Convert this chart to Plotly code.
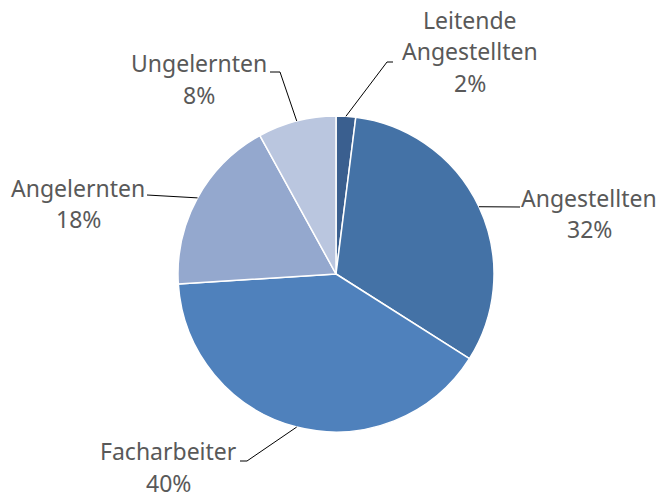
import math
import plotly.graph_objects as go

# ---- data ----
labels = ["Leitende Angestellten", "Angestellten", "Facharbeiter", "Angelernten", "Ungelernten"]
label_lines = [["Leitende", "Angestellten"], ["Angestellten"], ["Facharbeiter"], ["Angelernten"], ["Ungelernten"]]
values = [2, 32, 40, 18, 8]
colors = ["#3A5F8F", "#4472A6", "#4F81BC", "#94A8CE", "#BAC6DF"]

W, H = 662, 498
CX, CY, R = 336, 274, 158

# label layout (pixel positions of leader-line elbow/end and text centre)
label_layout = [
    dict(elbow=(387, 62), end=(393, 62), tx=470, ty=20),
    dict(elbow=None, end=(520, 207), tx=589, ty=198),
    dict(elbow=(247, 461), end=(240, 461), tx=168, ty=451),
    dict(elbow=None, end=(147, 195), tx=78, ty=188),
    dict(elbow=(280, 72), end=(270, 72), tx=199, ty=63),
]
LINE_GAP = 31.5

def px(x):
    return x / W

def py(y):
    return 1 - y / H

fig = go.Figure(go.Pie(
    labels=labels,
    values=values,
    sort=False,
    direction="clockwise",
    rotation=0,
    marker=dict(colors=colors, line=dict(color="white", width=1.5)),
    textinfo="none",
    hoverinfo="label+percent",
    domain=dict(x=[px(CX - R), px(CX + R)], y=[py(CY + R), py(CY - R)]),
    showlegend=False,
))

total = sum(values)
shapes = []
annotations = []
cum = 0
font = dict(family="Noto Sans", size=23, color="#595959")
for i, v in enumerate(values):
    mid = (cum + v / 2) / total * 2 * math.pi
    cum += v
    sx = CX + R * math.sin(mid)
    sy = CY - R * math.cos(mid)
    lay = label_layout[i]
    pts = [(sx, sy)]
    if lay["elbow"]:
        pts.append(lay["elbow"])
    pts.append(lay["end"])
    for (x0, y0), (x1, y1) in zip(pts[:-1], pts[1:]):
        shapes.append(dict(type="line", xref="paper", yref="paper",
                           x0=px(x0), y0=py(y0), x1=px(x1), y1=py(y1),
                           line=dict(color="black", width=1)))
    pct = round(v / total * 100)
    lines = label_lines[i] + [f"{pct}%"]
    for k, t in enumerate(lines):
        annotations.append(dict(text=t, xref="paper", yref="paper",
                                x=px(lay["tx"]), y=py(lay["ty"] + k * LINE_GAP),
                                xanchor="center", yanchor="middle",
                                showarrow=False, font=font))

fig.update_layout(
    width=W, height=H,
    margin=dict(l=0, r=0, t=0, b=0),
    paper_bgcolor="white",
    plot_bgcolor="white",
    shapes=shapes,
    annotations=annotations,
)

fig.write_html("out.html", config={"displayModeBar": False})

# remove default page margin so the figure sits at the window's top-left corner
with open("out.html", "r", encoding="utf-8") as f:
    html = f.read()
html = html.replace("<head>", "<head><style>html,body{margin:0;padding:0;overflow:hidden;}</style>", 1)
with open("out.html", "w", encoding="utf-8") as f:
    f.write(html)
